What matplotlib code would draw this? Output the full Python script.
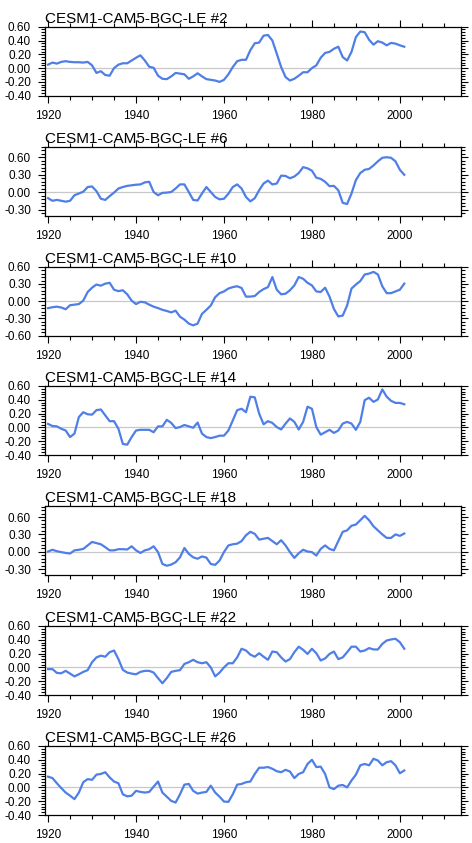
import numpy as np
import matplotlib.pyplot as plt
from matplotlib.ticker import MultipleLocator, AutoMinorLocator

plt.rcParams['font.family'] = ['Liberation Sans', 'DejaVu Sans']

# anos (media movel)
anos = list(range(1920, 2002))

titulos = ["CESM1-CAM5-BGC-LE #2", "CESM1-CAM5-BGC-LE #6", "CESM1-CAM5-BGC-LE #10",
           "CESM1-CAM5-BGC-LE #14", "CESM1-CAM5-BGC-LE #18", "CESM1-CAM5-BGC-LE #22",
           "CESM1-CAM5-BGC-LE #26"]

m2 = [0.05, 0.08, 0.065, 0.09, 0.10, 0.09, 0.085, 0.085, 0.08, 0.09,
      0.04, -0.07, -0.045, -0.10, -0.11, 0.0, 0.05, 0.07, 0.07, 0.11,
      0.15, 0.185, 0.11, 0.02, 0.005, -0.11, -0.155, -0.16, -0.12, -0.07,
      -0.08, -0.09, -0.155, -0.12, -0.075, -0.12, -0.16, -0.17, -0.18, -0.20,
      -0.17, -0.09, 0.015, 0.10, 0.12, 0.12, 0.26, 0.36, 0.37, 0.47,
      0.48, 0.40, 0.21, 0.015, -0.13, -0.18, -0.155, -0.11, -0.06, -0.06,
      0.0, 0.04, 0.15, 0.22, 0.235, 0.28, 0.31, 0.16, 0.11, 0.235,
      0.45, 0.53, 0.52, 0.41, 0.34, 0.39, 0.37, 0.33, 0.365, 0.355,
      0.33, 0.31]

m6 = [-0.10, -0.145, -0.13, -0.145, -0.16, -0.145, -0.05, -0.02, 0.01, 0.09,
      0.10, 0.02, -0.11, -0.13, -0.065, -0.005, 0.065, 0.09, 0.11, 0.12,
      0.13, 0.135, 0.17, 0.18, 0.005, -0.05, -0.01, -0.005, 0.005, 0.065,
      0.135, 0.135, 0.005, -0.13, -0.14, -0.02, 0.09, 0.005, -0.08, -0.12,
      -0.11, -0.025, 0.09, 0.135, 0.065, -0.08, -0.155, -0.10, 0.035, 0.15,
      0.20, 0.135, 0.15, 0.285, 0.28, 0.24, 0.27, 0.33, 0.43, 0.41,
      0.37, 0.25, 0.23, 0.18, 0.105, 0.11, 0.035, -0.18, -0.20, -0.02,
      0.21, 0.33, 0.385, 0.40, 0.46, 0.53, 0.59, 0.60, 0.59, 0.53,
      0.385, 0.30]

m10 = [-0.12, -0.105, -0.095, -0.11, -0.14, -0.07, -0.06, -0.05, 0.01, 0.16,
       0.235, 0.29, 0.27, 0.305, 0.32, 0.20, 0.175, 0.19, 0.12, 0.01,
       -0.05, -0.01, -0.02, -0.06, -0.095, -0.12, -0.15, -0.17, -0.195, -0.165,
       -0.27, -0.32, -0.39, -0.42, -0.39, -0.22, -0.15, -0.075, 0.07, 0.14,
       0.17, 0.22, 0.245, 0.26, 0.23, 0.08, 0.08, 0.09, 0.16, 0.21,
       0.245, 0.42, 0.20, 0.12, 0.13, 0.19, 0.275, 0.42, 0.39, 0.32,
       0.275, 0.17, 0.16, 0.235, 0.08, -0.135, -0.265, -0.25, -0.075, 0.22,
       0.29, 0.35, 0.465, 0.48, 0.51, 0.465, 0.26, 0.14, 0.14, 0.17,
       0.20, 0.305]

m14 = [0.05, 0.02, 0.015, -0.02, -0.045, -0.14, -0.09, 0.15, 0.22, 0.19,
       0.185, 0.25, 0.26, 0.175, 0.09, 0.09, -0.02, -0.24, -0.25, -0.14,
       -0.045, -0.035, -0.035, -0.035, -0.07, 0.015, 0.015, 0.11, 0.065, -0.01,
       0.005, 0.035, 0.015, -0.005, 0.07, -0.09, -0.14, -0.155, -0.14, -0.12,
       -0.12, -0.045, 0.10, 0.25, 0.27, 0.22, 0.445, 0.435, 0.20, 0.045,
       0.09, 0.065, 0.005, -0.03, 0.055, 0.13, 0.08, -0.03, 0.08, 0.30,
       0.27, 0.005, -0.105, -0.07, -0.035, -0.08, -0.045, 0.055, 0.08, 0.055,
       -0.035, 0.08, 0.395, 0.43, 0.37, 0.405, 0.55, 0.445, 0.385, 0.355,
       0.355, 0.335]

m18 = [0.005, 0.035, 0.01, -0.005, -0.02, -0.03, 0.025, 0.035, 0.05, 0.11,
       0.17, 0.15, 0.13, 0.08, 0.025, 0.025, 0.045, 0.045, 0.04, 0.095,
       0.025, -0.02, 0.025, 0.045, 0.095, -0.005, -0.21, -0.24, -0.22, -0.18,
       -0.095, 0.065, -0.035, -0.095, -0.12, -0.08, -0.10, -0.21, -0.225, -0.15,
       -0.005, 0.11, 0.13, 0.14, 0.185, 0.285, 0.345, 0.31, 0.21, 0.225,
       0.24, 0.185, 0.13, 0.20, 0.11, -0.005, -0.105, -0.025, 0.035, 0.005,
       -0.005, -0.065, 0.05, 0.11, 0.05, 0.025, 0.185, 0.345, 0.37, 0.45,
       0.47, 0.545, 0.62, 0.545, 0.44, 0.37, 0.30, 0.24, 0.24, 0.30,
       0.275, 0.315]

m22 = [-0.025, -0.025, -0.08, -0.085, -0.05, -0.09, -0.13, -0.10, -0.065, -0.04,
       0.075, 0.145, 0.17, 0.155, 0.22, 0.245, 0.12, -0.035, -0.075, -0.09,
       -0.10, -0.065, -0.05, -0.05, -0.075, -0.155, -0.23, -0.155, -0.065, -0.05,
       -0.04, 0.05, 0.075, 0.11, 0.075, 0.06, 0.075, 0.0, -0.13, -0.075,
       0.0, 0.06, 0.06, 0.145, 0.27, 0.245, 0.185, 0.155, 0.205, 0.155,
       0.11, 0.23, 0.22, 0.145, 0.085, 0.12, 0.22, 0.30, 0.255, 0.195,
       0.27, 0.205, 0.10, 0.13, 0.195, 0.23, 0.12, 0.145, 0.22, 0.30,
       0.30, 0.23, 0.245, 0.28, 0.26, 0.26, 0.34, 0.39, 0.405, 0.415,
       0.365, 0.27]

m26 = [0.155, 0.135, 0.06, -0.01, -0.075, -0.12, -0.17, -0.075, 0.075, 0.12,
       0.11, 0.185, 0.195, 0.22, 0.145, 0.085, 0.06, -0.10, -0.13, -0.12,
       -0.05, -0.065, -0.075, -0.065, 0.01, 0.085, -0.075, -0.135, -0.195, -0.22,
       -0.10, 0.04, 0.05, -0.05, -0.09, -0.075, -0.065, 0.025, -0.075, -0.135,
       -0.205, -0.21, -0.10, 0.04, 0.05, 0.075, 0.085, 0.195, 0.285, 0.285,
       0.295, 0.27, 0.235, 0.22, 0.255, 0.23, 0.135, 0.195, 0.22, 0.34,
       0.40, 0.295, 0.30, 0.195, 0.0, -0.025, 0.025, 0.035, 0.0, 0.10,
       0.185, 0.32, 0.34, 0.32, 0.415, 0.39, 0.32, 0.365, 0.38, 0.32,
       0.205, 0.245]

series = [m2, m6, m10, m14, m18, m22, m26]

# limites do eixo y de cada painel
ylims = [(-0.4, 0.6), (-0.4, 0.78), (-0.6, 0.6), (-0.4, 0.6),
         (-0.4, 0.79), (-0.4, 0.6), (-0.4, 0.6)]
ysteps = [0.2, 0.3, 0.3, 0.2, 0.3, 0.2, 0.2]

W, H = 472, 843
fig = plt.figure(figsize=(W / 100, H / 100), dpi=100)

topos = [26.7, 146.7, 266.7, 386, 506, 626, 746]
altura = 69
esq, dir_ = 45, 461

for i, (titulo, y) in enumerate(zip(titulos, series)):
    ax = fig.add_axes([esq / W, 1 - (topos[i] + altura) / H, (dir_ - esq) / W, altura / H])
    ax.axhline(0, color='#c8c8c8', lw=0.9, zorder=1)
    ax.plot(anos, y, color='#4f7fe6', lw=1.6, zorder=2)
    ax.set_xlim(1919.3, 2013.9)
    ax.set_ylim(*ylims[i])
    ax.xaxis.set_major_locator(MultipleLocator(20))
    ax.xaxis.set_minor_locator(MultipleLocator(5))
    ax.yaxis.set_major_locator(MultipleLocator(ysteps[i]))
    ax.yaxis.set_minor_locator(AutoMinorLocator(5))
    ax.yaxis.set_major_formatter(plt.FuncFormatter(lambda v, p: f"{v:.2f}"))
    ax.tick_params(which='both', direction='out', top=True, right=True,
                   labelsize=8.5, width=0.8, colors='black')
    ax.tick_params(which='major', length=5)
    ax.tick_params(which='minor', length=3)
    ax.tick_params(axis='x', pad=5)
    ax.tick_params(axis='y', pad=5)
    for s in ax.spines.values():
        s.set_linewidth(0.9)
    ax.set_title(titulo, loc='left', fontsize=11, pad=3)

fig.savefig('out.png', dpi=100)
